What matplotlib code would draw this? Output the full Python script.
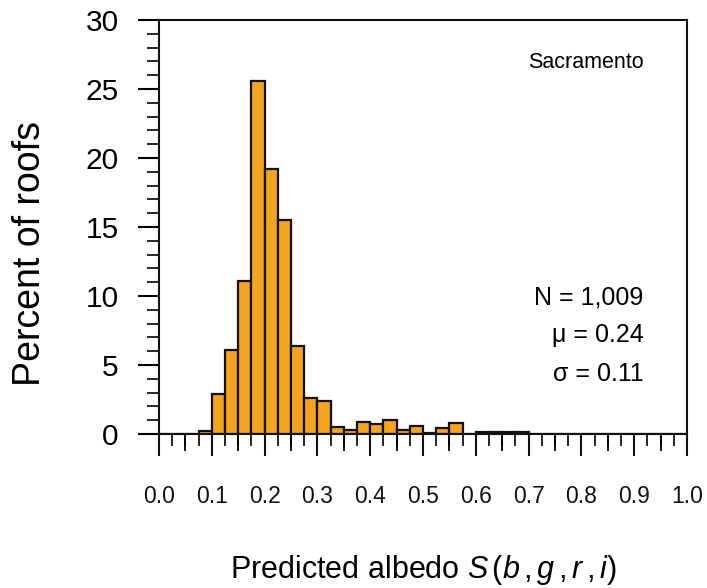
import matplotlib
matplotlib.use("Agg")
import matplotlib.pyplot as plt
import numpy as np

plt.rcParams['font.family'] = ['Liberation Sans', 'DejaVu Sans']
plt.rcParams['mathtext.fontset'] = 'custom'
plt.rcParams['mathtext.rm'] = 'Liberation Sans'
plt.rcParams['mathtext.it'] = 'Liberation Sans:italic'

# Histogram data: bin left edges (width 0.025) and percent of roofs
bin_width = 0.025
bin_lefts = [round(i * bin_width, 3) for i in range(40)]
percent = [0, 0, 0, 0.2, 2.9, 6.1, 11.1, 25.6, 19.2, 15.5,
           6.4, 2.6, 2.4, 0.5, 0.3, 0.9, 0.7, 1.0, 0.3, 0.6,
           0.1, 0.4, 0.8, 0, 0.15, 0.15, 0.15, 0.15, 0, 0,
           0, 0, 0, 0, 0, 0, 0, 0, 0, 0]
xtick_vals = [0.0, 0.1, 0.2, 0.3, 0.4, 0.5, 0.6, 0.7, 0.8, 0.9, 1.0]
xtick_labels = ["0.0", "0.1", "0.2", "0.3", "0.4", "0.5", "0.6", "0.7", "0.8", "0.9", "1.0"]
ytick_vals = [0, 5, 10, 15, 20, 25, 30]
stats_lines = ["N = 1,009", "\u03bc = 0.24", "\u03c3 = 0.11"]
city = "Sacramento"

fig = plt.figure(figsize=(7.07, 5.88), dpi=100)
ax = fig.add_axes([159/707, 1 - 434/588, 528/707, 414/588])

ax.bar(bin_lefts, percent, width=bin_width, align='edge',
       color='#F4A41F', edgecolor='#111111', linewidth=1.6, zorder=2)

ax.set_xlim(0, 1)
ax.set_ylim(0, 30)

ax.set_xticks(xtick_vals)
ax.set_xticklabels(xtick_labels)
ax.set_xticks(np.arange(0, 1.0001, 0.025), minor=True)
ax.set_yticks(ytick_vals)
ax.set_yticks(np.arange(0, 30.001, 1), minor=True)

ax.tick_params(axis='x', which='major', direction='out', length=16, width=1.5,
               pad=21, labelsize=16.5, colors='#111111')
ax.tick_params(axis='x', which='minor', direction='out', length=8.5, width=1.2)
ax.tick_params(axis='y', which='major', direction='out', length=15, width=1.5,
               pad=14, labelsize=21.5)
ax.tick_params(axis='y', which='minor', direction='out', length=8.5, width=1.2)

# medium-length ticks at odd multiples of 0.05
sec = ax.secondary_xaxis('bottom')
sec.set_xticks(np.arange(0.05, 1.0, 0.1))
sec.set_xticklabels([])
sec.tick_params(direction='out', length=12, width=1.3)
sec.spines['bottom'].set_visible(False)

for s in ax.spines.values():
    s.set_linewidth(1.5)
    s.set_color('#111111')

ax.set_ylabel("Percent of roofs", fontsize=27)
ax.yaxis.set_label_coords(-0.21, 0.435)
ax.set_xlabel(r"Predicted albedo $S\,(b\,,g\,,r\,,i)$", fontsize=22, labelpad=32)

ax.text(0.918, 26.9, city, ha='right', va='center', fontsize=15.5)
ys = [9.9, 7.15, 4.35]
for t, y in zip(stats_lines, ys):
    ax.text(0.918, y, t, ha='right', va='center', fontsize=18)

fig.savefig("out.png", dpi=100)
